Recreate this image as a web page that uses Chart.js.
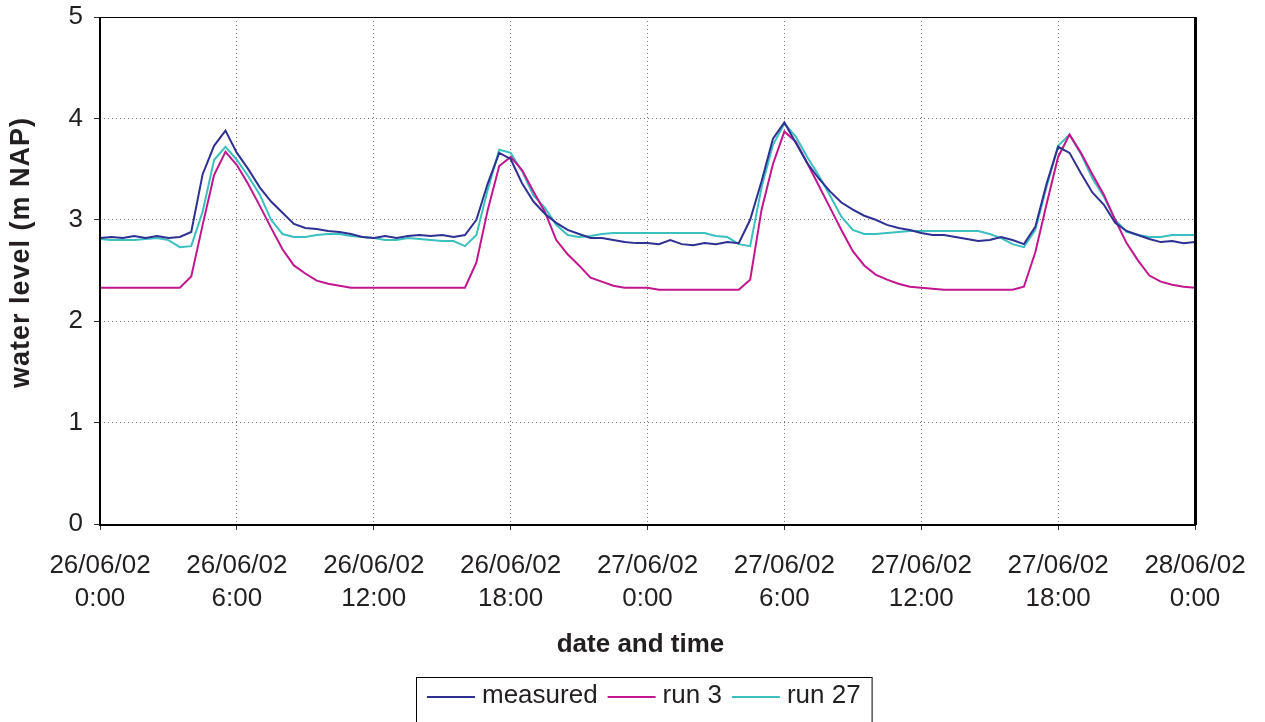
<!DOCTYPE html>
<html>
<head>
<meta charset="utf-8">
<script src="https://cdn.jsdelivr.net/npm/chart.js@4.4.1/dist/chart.umd.min.js"></script>
<style>
  html, body { margin: 0; padding: 0; background: #ffffff; }
  #wrap { width: 1265px; height: 722px; position: relative; }
</style>
</head>
<body>
<div id="wrap"><canvas id="c" width="1265" height="722"></canvas></div>
<script>
// hours since 26/06/02 0:00
const hours = [0,0.5,1,1.5,2,2.5,3,3.5,4,4.5,5,5.5,6,6.5,7,7.5,8,8.5,9,9.5,10,10.5,11,11.5,12,12.5,13,13.5,14,14.5,15,15.5,16,16.5,17,17.5,18,18.5,19,19.5,20,20.5,21,21.5,22,22.5,23,23.5,24,24.5,25,25.5,26,26.5,27,27.5,28,28.5,29,29.5,30,30.5,31,31.5,32,32.5,33,33.5,34,34.5,35,35.5,36,36.5,37,37.5,38,38.5,39,39.5,40,40.5,41,41.5,42,42.5,43,43.5,44,44.5,45,45.5,46,46.5,47,47.5,48];

const measured = [2.82,2.83,2.82,2.84,2.82,2.84,2.82,2.83,2.88,3.45,3.73,3.88,3.66,3.50,3.32,3.18,3.07,2.96,2.92,2.91,2.89,2.88,2.86,2.83,2.82,2.84,2.82,2.84,2.85,2.84,2.85,2.83,2.85,3.00,3.36,3.66,3.60,3.36,3.18,3.06,2.97,2.90,2.86,2.82,2.82,2.80,2.78,2.77,2.77,2.76,2.80,2.76,2.75,2.77,2.76,2.78,2.77,3.00,3.38,3.80,3.96,3.76,3.56,3.41,3.28,3.17,3.10,3.04,3.00,2.95,2.92,2.90,2.87,2.85,2.85,2.83,2.81,2.79,2.80,2.83,2.80,2.76,2.93,3.36,3.72,3.66,3.46,3.27,3.15,2.97,2.89,2.85,2.81,2.78,2.79,2.77,2.78];

const run3 = [2.33,2.33,2.33,2.33,2.33,2.33,2.33,2.33,2.44,2.95,3.44,3.67,3.54,3.35,3.14,2.92,2.71,2.55,2.47,2.40,2.37,2.35,2.33,2.33,2.33,2.33,2.33,2.33,2.33,2.33,2.33,2.33,2.33,2.58,3.10,3.53,3.62,3.49,3.28,3.08,2.80,2.66,2.55,2.43,2.39,2.35,2.33,2.33,2.33,2.31,2.31,2.31,2.31,2.31,2.31,2.31,2.31,2.41,3.10,3.55,3.87,3.77,3.56,3.34,3.12,2.90,2.69,2.55,2.46,2.41,2.37,2.34,2.33,2.32,2.31,2.31,2.31,2.31,2.31,2.31,2.31,2.34,2.68,3.16,3.62,3.84,3.66,3.45,3.25,3.00,2.77,2.60,2.45,2.39,2.36,2.34,2.33];

const run27 = [2.81,2.80,2.80,2.80,2.81,2.82,2.80,2.73,2.74,3.08,3.59,3.72,3.59,3.43,3.25,3.00,2.86,2.83,2.83,2.85,2.86,2.86,2.84,2.83,2.82,2.80,2.80,2.82,2.81,2.80,2.79,2.79,2.74,2.85,3.30,3.69,3.66,3.48,3.24,3.12,2.95,2.85,2.83,2.84,2.86,2.87,2.87,2.87,2.87,2.87,2.87,2.87,2.87,2.87,2.84,2.83,2.76,2.74,3.32,3.74,3.95,3.82,3.62,3.44,3.24,3.03,2.90,2.86,2.86,2.87,2.88,2.89,2.89,2.89,2.89,2.89,2.89,2.89,2.86,2.82,2.76,2.73,2.90,3.33,3.73,3.84,3.65,3.41,3.23,3.00,2.88,2.85,2.83,2.83,2.85,2.85,2.85];

const tickDates = ['26/06/02','26/06/02','26/06/02','26/06/02','27/06/02','27/06/02','27/06/02','27/06/02','28/06/02'];
const tickTimes = ['0:00','6:00','12:00','18:00','0:00','6:00','12:00','18:00','0:00'];

const seriesNames = ['measured', 'run 3', 'run 27'];
const seriesColors = ['#2e3192', '#c1168f', '#3bbfbf'];
const yTitle = 'water level (m NAP)';
const xTitle = 'date and time';

const FONT = '"Liberation Sans", Arial, sans-serif';
const TEXT = '#231f20';

function pts(vals) { return vals.map((v, i) => ({ x: hours[i], y: v })); }

const framePlugin = {
  id: 'frame',
  afterDraw(chart) {
    const { ctx, chartArea: a } = chart;
    ctx.save();
    ctx.strokeStyle = '#000';
    ctx.lineWidth = 1;
    ctx.beginPath(); ctx.moveTo(a.left, a.top + 0.5); ctx.lineTo(a.right, a.top + 0.5); ctx.stroke();
    ctx.lineWidth = 2;
    ctx.beginPath(); ctx.moveTo(a.left, a.top); ctx.lineTo(a.left, a.bottom + 1); ctx.lineTo(a.right + 1, a.bottom + 1); ctx.stroke();
    ctx.lineWidth = 3;
    ctx.beginPath(); ctx.moveTo(a.right + 0.5, a.top); ctx.lineTo(a.right + 0.5, a.bottom + 1); ctx.stroke();
    ctx.restore();

    // axis titles
    ctx.save();
    ctx.fillStyle = TEXT;
    ctx.textAlign = 'center';
    ctx.textBaseline = 'middle';
    ctx.font = 'bold 26px ' + FONT;
    ctx.fillText(xTitle, (a.left + a.right) / 2 - 7, a.bottom + 121);
    ctx.translate(22, (a.top + a.bottom) / 2 - 18);
    ctx.rotate(-Math.PI / 2);
    ctx.font = 'bold 27px ' + FONT;
    if ('letterSpacing' in ctx) ctx.letterSpacing = '1px';
    ctx.fillText(yTitle, 0, 0);
    ctx.restore();

    // legend box
    ctx.save();
    ctx.font = '26px ' + FONT;
    const lineLen = 48, gapLT = 7, gapItem = 10, padX = 11;
    let total = padX * 2;
    const widths = seriesNames.map(n => ctx.measureText(n).width);
    widths.forEach((w, i) => { total += lineLen + gapLT + w + (i < widths.length - 1 ? gapItem : 0); });
    const cx = (a.left + a.right) / 2 - 4;
    const left = Math.round(cx - total / 2);
    const top = a.bottom + 153;
    ctx.strokeStyle = '#000';
    ctx.lineWidth = 1;
    ctx.strokeRect(left + 0.5, top + 0.5, total, 80);
    let x = left + padX;
    const yMid = top + 19;
    ctx.textBaseline = 'middle';
    ctx.textAlign = 'left';
    seriesNames.forEach((n, i) => {
      ctx.strokeStyle = seriesColors[i];
      ctx.lineWidth = 2;
      ctx.beginPath(); ctx.moveTo(x, yMid + 1); ctx.lineTo(x + lineLen, yMid + 1); ctx.stroke();
      x += lineLen + gapLT;
      ctx.fillStyle = TEXT;
      ctx.fillText(n, x, yMid);
      x += widths[i] + gapItem;
    });
    ctx.restore();
  }
};

new Chart(document.getElementById('c'), {
  type: 'line',
  data: {
    datasets: seriesNames.map((n, i) => ({
      label: n,
      data: pts([measured, run3, run27][i]),
      borderColor: seriesColors[i],
      backgroundColor: seriesColors[i],
      borderWidth: 2,
      pointRadius: 0,
      tension: 0,
      fill: false
    }))
  },
  options: {
    responsive: false,
    animation: false,
    devicePixelRatio: 1,
    layout: { padding: { left: 0, right: 70, top: 17, bottom: 0 } },
    plugins: { legend: { display: false }, tooltip: { enabled: false } },
    scales: {
      x: {
        type: 'linear', min: 0, max: 48,
        afterFit(s) { s.height = 198; s.paddingLeft = 0; s.paddingRight = 0; },
        afterBuildTicks(s) { s.ticks = tickTimes.map((_, i) => ({ value: i * 6 })); },
        ticks: {
          autoSkip: false, maxRotation: 0, padding: 19, color: TEXT,
          font: { family: FONT, size: 26, lineHeight: 1.27 },
          callback(v, i) { return [tickDates[i], tickTimes[i]]; }
        },
        grid: { color: '#777', lineWidth: 1, tickLength: 6, tickColor: '#333', tickBorderDash: [] },
        border: { display: false, dash: [1, 3] },
        title: { display: false }
      },
      y: {
        min: 0, max: 5,
        afterFit(s) { s.width = 100; s.paddingTop = 0; s.paddingBottom = 0; },
        ticks: { stepSize: 1, padding: 11, color: TEXT, font: { family: FONT, size: 26 } },
        grid: { color: '#777', lineWidth: 1, tickLength: 6, tickColor: '#333', tickBorderDash: [] },
        border: { display: false, dash: [1, 3] },
        title: { display: false }
      }
    }
  },
  plugins: [framePlugin]
});
</script>
</body>
</html>
